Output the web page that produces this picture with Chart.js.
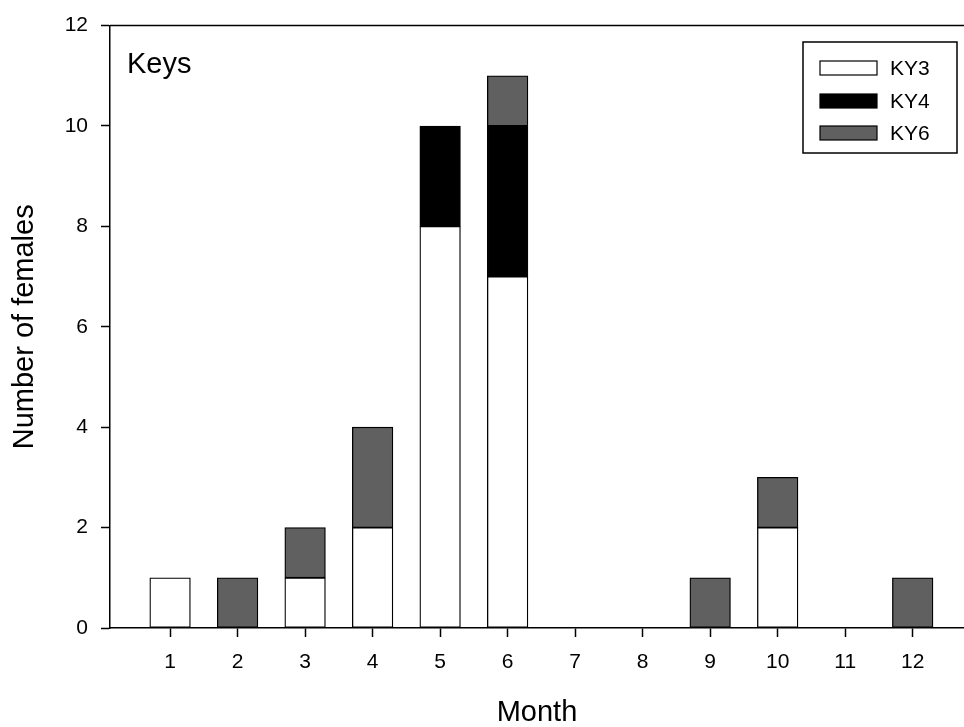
<!DOCTYPE html>
<html>
<head>
<meta charset="utf-8">
<script src="https://cdn.jsdelivr.net/npm/chart.js@4.4.1/dist/chart.umd.min.js"></script>
<style>
html,body{margin:0;padding:0;background:#fff;}
#wrap{width:964px;height:727px;}
</style>
</head>
<body>
<div id="wrap"><canvas id="c" width="964" height="727"></canvas></div>
<script>
const months = [1,2,3,4,5,6,7,8,9,10,11,12];
const ky3 = [1,0,1,2,8,7,0,0,0,2,0,0];
const ky4 = [0,0,0,0,2,3,0,0,0,0,0,0];
const ky6 = [0,1,1,2,0,1,0,0,1,1,0,1];
const seriesNames = ['KY3','KY4','KY6'];
const seriesColors = ['#ffffff','#000000','#606060'];
const yTicks = [0,2,4,6,8,10,12];
const panelLabel = 'Keys';

const FONT = "'Liberation Sans', Arial, Helvetica, sans-serif";

function toPoints(vals){
  return months.map((m,i)=>({x:m, y: vals[i] === 0 ? null : vals[i]}));
}

const datasets = [ky3, ky4, ky6].map((vals, i) => ({
  label: seriesNames[i],
  data: toPoints(vals),
  backgroundColor: seriesColors[i],
  borderColor: '#000000',
  borderWidth: 1.3,
  borderSkipped: false,
  barThickness: 40.6
}));

const decor = {
  id: 'decor',
  afterDraw(chart){
    const {ctx, chartArea} = chart;
    ctx.save();
    ctx.strokeStyle = '#000';
    ctx.lineWidth = 1.5;
    ctx.beginPath();
    ctx.moveTo(chartArea.left, chartArea.top);
    ctx.lineTo(chartArea.right, chartArea.top);
    ctx.stroke();
    ctx.fillStyle = '#000';
    ctx.font = "29px " + FONT;
    ctx.textAlign = 'left';
    ctx.textBaseline = 'alphabetic';
    ctx.fillText(panelLabel, 127, 73);
    const bx = 803, by = 42, bw = 154, bh = 111;
    ctx.fillStyle = '#fff';
    ctx.fillRect(bx, by, bw, bh);
    ctx.lineWidth = 1.5;
    ctx.strokeRect(bx, by, bw, bh);
    const rows = [68, 101, 133];
    chart.data.datasets.forEach((ds, i) => {
      const cy = rows[i];
      ctx.fillStyle = ds.backgroundColor;
      ctx.fillRect(820, cy - 7, 57, 14);
      ctx.lineWidth = 1.2;
      ctx.strokeStyle = '#000';
      ctx.strokeRect(820, cy - 7, 57, 14);
      ctx.fillStyle = '#000';
      ctx.font = "21px " + FONT;
      ctx.textBaseline = 'middle';
      ctx.fillText(ds.label, 890, cy + 1);
    });
    ctx.restore();
  }
};

new Chart(document.getElementById('c'), {
  type: 'bar',
  data: { datasets },
  plugins: [decor],
  options: {
    responsive: false,
    animation: false,
    devicePixelRatio: 1,
    layout: { padding: { top: 22, right: 0, left: 0, bottom: 0 } },
    plugins: { legend: { display: false }, tooltip: { enabled: false } },
    scales: {
      x: {
        type: 'linear',
        stacked: true,
        min: 0.11,
        max: 12.76,
        offset: false,
        ticks: {
          stepSize: 1,
          includeBounds: false,
          color: '#000',
          font: { family: FONT, size: 21 },
          padding: 13,
          maxRotation: 0,
          autoSkip: false
        },
        grid: { offset: false, drawOnChartArea: false, tickLength: 9, color: '#000', tickWidth: 1.5 },
        border: { color: '#000', width: 1.5 },
        title: { display: true, text: 'Month', color: '#000', font: { family: FONT, size: 29, lineHeight: 1 }, padding: { top: 0, bottom: 0 } },
        afterFit(scale){ scale.height = 99; }
      },
      y: {
        stacked: true,
        min: 0,
        max: 12,
        afterBuildTicks(scale){ scale.ticks = yTicks.map(v => ({value: v})); },
        ticks: { color: '#000', font: { family: FONT, size: 21 }, padding: 13 },
        grid: { drawOnChartArea: false, tickLength: 9, color: '#000', tickWidth: 1.5 },
        border: { color: '#000', width: 1.5 },
        title: { display: true, text: 'Number of females', color: '#000', font: { family: FONT, size: 29, lineHeight: 1 }, padding: { top: 10, bottom: 0 } },
        afterFit(scale){ scale.width = 110; }
      }
    }
  }
});
</script>
</body>
</html>
